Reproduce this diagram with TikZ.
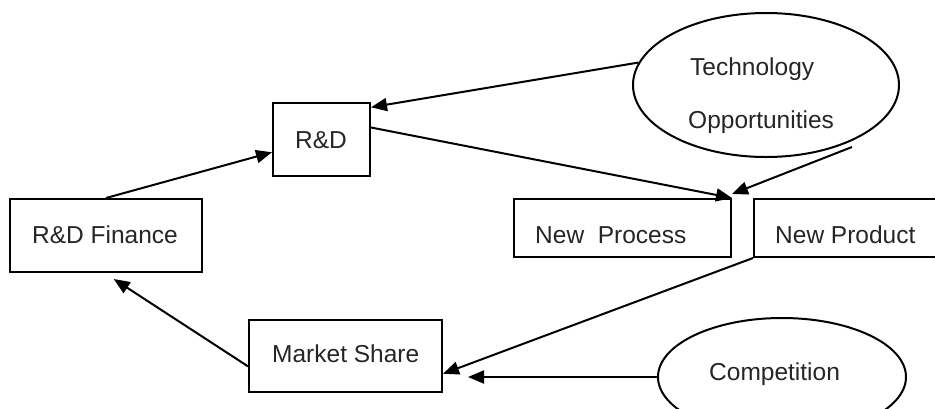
\documentclass[tikz,border=0pt]{standalone}
\usepackage{fontspec}
\setmainfont{Liberation Sans}
\usetikzlibrary{arrows.meta,calc,shapes.geometric}

\tikzset{
  boxshape/.style={draw, line width=2pt, rectangle, inner sep=0pt},
  ovalshape/.style={draw, line width=2pt, ellipse, inner sep=0pt},
  caption/.style={anchor=base west, inner sep=0pt, text=black!85, font=\fontsize{24.5}{28}\selectfont},
  link/.style={line width=2pt, -{Triangle[length=16pt,width=13pt]}},
}

\begin{document}
\begin{tikzpicture}[x=1pt, y=-1pt]
  \useasboundingbox (0,0) rectangle (935,408);
  \clip (0,0) rectangle (935,408);
  \fill[white] (0,0) rectangle (935,408);

  % boxes
  \node[boxshape, minimum width=192pt, minimum height=73pt] (fin) at (106,235.5) {};
  \node[boxshape, minimum width=97pt,  minimum height=73pt] (rd)  at (321.5,139.5) {};
  \node[boxshape, minimum width=193pt, minimum height=72pt] (ms)  at (345.5,356) {};
  \node[boxshape, minimum width=217pt, minimum height=58pt] (np)  at (622.5,228) {};
  \node[boxshape, minimum width=220pt, minimum height=58pt] (nd)  at (864,228) {};

  % ellipses
  \node[ovalshape, minimum width=266pt, minimum height=144pt] (tech) at (766,85) {};
  \node[ovalshape, minimum width=248pt, minimum height=118pt] (comp) at (782,377) {};

  % labels
  \node[caption] (fin-t)  at (32,243)  {R\&D Finance};
  \node[caption] (rd-t)   at (295,148) {R\&D};
  \node[caption] (ms-t)   at (272,362) {Market Share};
  \node[caption] (np-t)   at (535,243) {New\ \ Process};
  \node[caption] (nd-t)   at (775,243) {New Product};
  \node[caption] (tech-t1) at (690,75) {Technology};
  \node[caption] (tech-t2) at (688,128) {Opportunities};
  \node[caption] (comp-t) at (709,380) {Competition};

  % free end points of connectors
  \coordinate (techfoot) at (852,147);

  % connectors
  \draw[link] ($(fin.north west)!0.5!(fin.north east)$) -- ($(rd.north west)!0.67!(rd.south west)$);
  \draw[link] (tech.170) -- ($(rd.north east)!0.07!(rd.south east)$);
  \draw[link] ($(rd.north east)!0.34!(rd.south east)$) -- (np.north east);
  \draw[link] (techfoot) -- ([yshift=4pt]np.north east);
  \draw[link] (nd.south west) -- ($(ms.north east)!0.74!(ms.south east)$);
  \draw[link] (comp.west) -- ($(ms.east |- comp.west)+(25,0)$);
  \draw[link] ($(ms.north west)!0.64!(ms.south west)$) -- ($(fin.south west)!0.54!(fin.south east)+(0,6)$);
\end{tikzpicture}
\end{document}
